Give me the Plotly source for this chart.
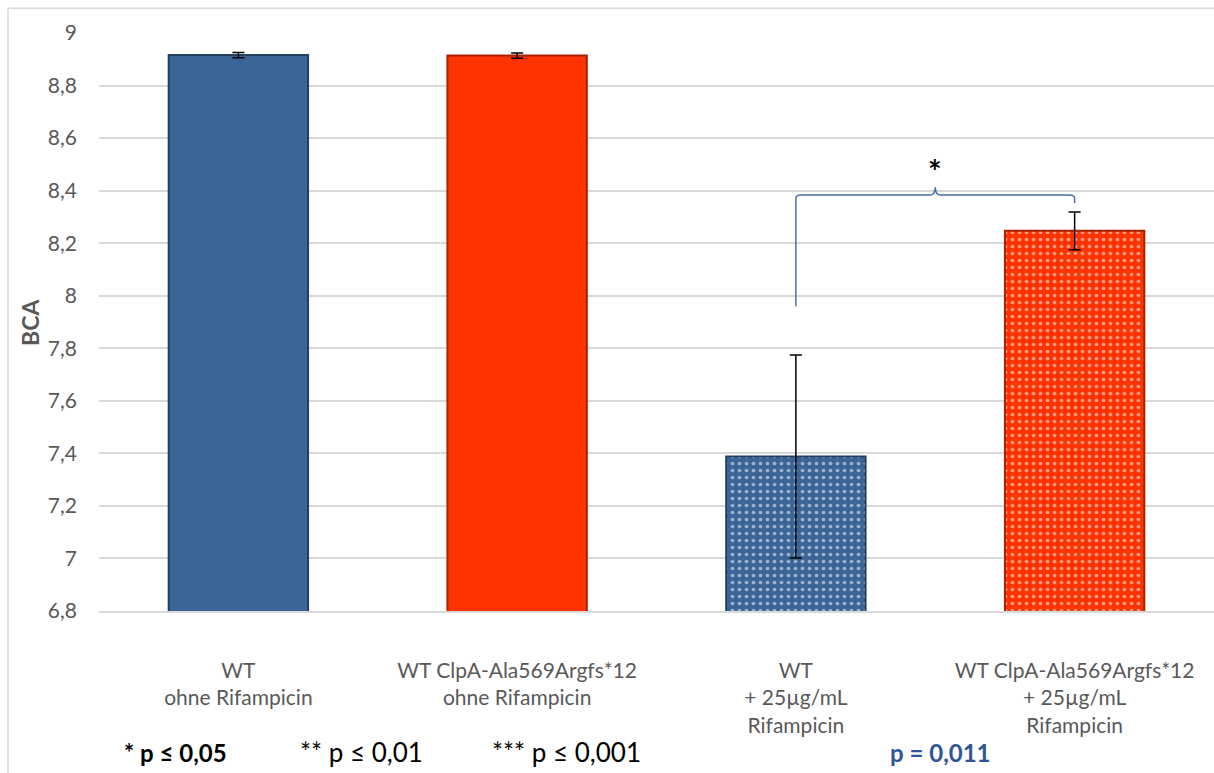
import plotly.graph_objects as go

# ---- data ----
categories = [
    "WT<br>ohne Rifampicin",
    "WT ClpA-Ala569Argfs*12<br>ohne Rifampicin",
    "WT<br>+ 25µg/mL<br>Rifampicin",
    "WT ClpA-Ala569Argfs*12<br>+ 25µg/mL<br>Rifampicin",
]
bca_values = [8.916, 8.914, 7.388, 8.247]
bca_errors = [0.010, 0.010, 0.386, 0.072]
bar_colors = ["#3B6597", "#FF3300", "#3B6597", "#FF3300"]
edge_colors = ["#22405f", "#a82100", "#22405f", "#a82100"]
pattern_shapes = ["", "", ".", "."]

y_min, y_max, y_step = 6.8, 9.0, 0.2
sig_label = "*"
sig_pair = (2, 3)
bracket_low = 7.96
bracket_level = 8.383
p_value_text = "p = 0,011"
legend_texts = ["<b>* p ≤ 0,05</b>", "** p ≤ 0,01", "*** p ≤ 0,001"]
legend_x = [0.069, 0.235, 0.419]

FONT = "Lato, 'Open Sans', sans-serif"
GREY = "#595959"
BLUE = "#2F5597"

fig = go.Figure()
fig.add_trace(go.Bar(
    x=categories,
    y=bca_values,
    error_y=dict(type="data", array=bca_errors, visible=True,
                 color="black", thickness=1.5, width=6),
    marker=dict(
        color=bar_colors,
        line=dict(color=edge_colors, width=2),
        pattern=dict(shape=pattern_shapes, fgcolor="white",
                     bgcolor=bar_colors, size=7, solidity=0.22,
                     fillmode="overlay"),
    ),
    hoverinfo="skip",
))

# significance bracket (curly style) between bars 3 and 4
a, b = sig_pair
mid = (a + b) / 2
r = 0.02
h = 0.012
path = (
    f"M {a},{bracket_low} L {a},{bracket_level - h} "
    f"Q {a},{bracket_level} {a + r},{bracket_level} "
    f"L {mid - r},{bracket_level} "
    f"Q {mid},{bracket_level} {mid},{bracket_level + 0.03} "
    f"Q {mid},{bracket_level} {mid + r},{bracket_level} "
    f"L {b - r},{bracket_level} "
    f"Q {b},{bracket_level} {b},{bracket_level - h} "
    f"L {b},{bracket_level - 0.03}"
)
shapes = [
    dict(type="path", xref="x", yref="y", path=path,
         line=dict(color="#4A6FA5", width=1.5)),
    # chart border (left and top)
    dict(type="line", xref="paper", yref="paper", x0=-0.0816, x1=-0.0816,
         y0=1.043, y1=-0.4, line=dict(color="#d9d9d9", width=1.5)),
    dict(type="line", xref="paper", yref="paper", x0=-0.0816, x1=1.05,
         y0=1.043, y1=1.043, line=dict(color="#d9d9d9", width=1.5)),
]

annotations = [
    dict(x=mid, y=bracket_level + 0.09, xref="x", yref="y", text=f"<b>{sig_label}</b>",
         showarrow=False, xanchor="center", yanchor="middle",
         font=dict(size=32, color="black", family=FONT)),
    dict(x=-0.0619, y=0.5, xref="paper", yref="paper", text="<b>BCA</b>",
         textangle=-90, showarrow=False, xanchor="center", yanchor="middle",
         font=dict(size=23, color=GREY, family=FONT)),
    dict(x=legend_x[0], y=-0.244, xref="paper", yref="paper", text=legend_texts[0],
         showarrow=False, xanchor="center", yanchor="middle",
         font=dict(size=24, color="black", family=FONT)),
    dict(x=legend_x[1], y=-0.244, xref="paper", yref="paper", text=legend_texts[1],
         showarrow=False, xanchor="center", yanchor="middle",
         font=dict(size=26, color="black", family=FONT)),
    dict(x=legend_x[2], y=-0.244, xref="paper", yref="paper", text=legend_texts[2],
         showarrow=False, xanchor="center", yanchor="middle",
         font=dict(size=26, color="black", family=FONT)),
    dict(x=0.755, y=-0.244, xref="paper", yref="paper", text=f"<b>{p_value_text}</b>",
         showarrow=False, xanchor="center", yanchor="middle",
         font=dict(size=24, color=BLUE, family=FONT)),
]

fig.update_layout(
    width=1214, height=773,
    margin=dict(l=99, r=0, t=33, b=162),
    paper_bgcolor="white", plot_bgcolor="white",
    separators=",.",
    bargap=0.5,
    showlegend=False,
    font=dict(family=FONT, color=GREY, size=21),
    shapes=shapes,
    annotations=annotations,
    xaxis=dict(showgrid=False, showline=True, linecolor="#d9d9d9", linewidth=1.5,
               ticks="", tickfont=dict(size=21, color=GREY, family=FONT),
               ticklabelstandoff=40),
    yaxis=dict(range=[y_min, y_max], dtick=y_step, tick0=y_min,
               showgrid=True, gridcolor="#d9d9d9", gridwidth=1.5,
               zeroline=False, showline=False, ticks="",
               tickfont=dict(size=21, color=GREY, family=FONT),
               ticklabelstandoff=21),
)

fig.write_html("out.html")
